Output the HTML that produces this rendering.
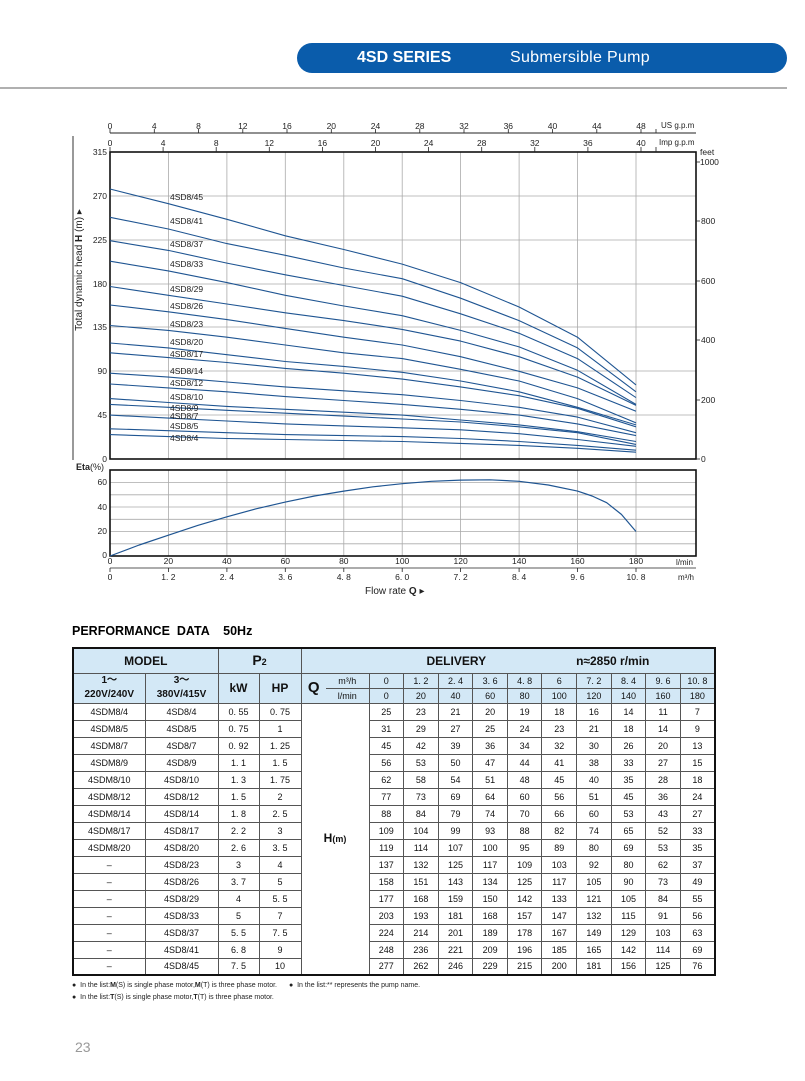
<!DOCTYPE html>
<html><head><meta charset="utf-8"><style>
body{margin:0;width:805px;height:1081px;background:#fff;position:relative;font-family:"Liberation Sans",sans-serif;overflow:hidden}
.pill{position:absolute;left:297px;top:43px;width:490px;height:30px;background:#0a5cab;border-radius:15px;color:#fff}
.pill b{position:absolute;left:60px;top:6px;font-size:16px}
.pill span{position:absolute;left:213px;top:6px;font-size:16px;letter-spacing:0.3px}
.hr{position:absolute;left:0;top:87px;width:787px;height:2px;background:#b0b0b0}
svg{position:absolute;left:0;top:0}
table{position:absolute;left:72px;top:647px;border-collapse:collapse;border:2px solid #111;table-layout:fixed;width:642px}
td{border:1px solid #555;text-align:center;padding:0;font-size:9px;line-height:10px;color:#111;overflow:hidden;white-space:nowrap}
tr.d{height:17px}
tr.d td{height:16px;box-sizing:border-box}
.h td{background:#d3e8f6;font-weight:bold}
.pd{position:absolute;left:72px;top:624px;font-size:12.5px;font-weight:bold}
.fn{position:absolute;left:72px;font-size:7px;color:#222}
.pg{position:absolute;left:75px;top:1039px;font-size:14px;color:#999}
</style></head><body>
<div class="pill"><b>4SD SERIES</b><span>Submersible Pump</span></div>
<div class="hr"></div>
<svg width="805" height="620" viewBox="0 0 805 620" font-family="Liberation Sans,sans-serif" font-size="8.5" fill="#222">
<line x1="73" y1="136" x2="73" y2="460" stroke="#333" stroke-width="1"/>
<g stroke="#aaa" stroke-width="0.8">
<line x1="168.4" y1="152" x2="168.4" y2="459"/><line x1="226.9" y1="152" x2="226.9" y2="459"/><line x1="285.3" y1="152" x2="285.3" y2="459"/><line x1="343.8" y1="152" x2="343.8" y2="459"/><line x1="402.2" y1="152" x2="402.2" y2="459"/><line x1="460.6" y1="152" x2="460.6" y2="459"/><line x1="519.1" y1="152" x2="519.1" y2="459"/><line x1="577.5" y1="152" x2="577.5" y2="459"/><line x1="636" y1="152" x2="636" y2="459"/>
<line x1="110" y1="196" x2="696" y2="196"/><line x1="110" y1="240" x2="696" y2="240"/><line x1="110" y1="284" x2="696" y2="284"/><line x1="110" y1="327" x2="696" y2="327"/><line x1="110" y1="371" x2="696" y2="371"/><line x1="110" y1="415" x2="696" y2="415"/>
</g>
<rect x="110" y="152" width="586" height="307" fill="none" stroke="#111" stroke-width="1.6"/>
<line x1="110" y1="133" x2="696" y2="133" stroke="#222" stroke-width="1"/>
<g stroke="#222" stroke-width="0.8">
<line x1="110" y1="129" x2="110" y2="133"/><line x1="154.3" y1="129" x2="154.3" y2="133"/><line x1="198.5" y1="129" x2="198.5" y2="133"/><line x1="242.8" y1="129" x2="242.8" y2="133"/><line x1="287" y1="129" x2="287" y2="133"/><line x1="331.3" y1="129" x2="331.3" y2="133"/><line x1="375.5" y1="129" x2="375.5" y2="133"/><line x1="419.8" y1="129" x2="419.8" y2="133"/><line x1="464" y1="129" x2="464" y2="133"/><line x1="508.3" y1="129" x2="508.3" y2="133"/><line x1="552.5" y1="129" x2="552.5" y2="133"/><line x1="596.8" y1="129" x2="596.8" y2="133"/><line x1="641" y1="129" x2="641" y2="133"/><line x1="656" y1="129" x2="656" y2="133"/>
<line x1="110" y1="147" x2="110" y2="152"/><line x1="163.1" y1="147" x2="163.1" y2="152"/><line x1="216.2" y1="147" x2="216.2" y2="152"/><line x1="269.3" y1="147" x2="269.3" y2="152"/><line x1="322.4" y1="147" x2="322.4" y2="152"/><line x1="375.5" y1="147" x2="375.5" y2="152"/><line x1="428.6" y1="147" x2="428.6" y2="152"/><line x1="481.7" y1="147" x2="481.7" y2="152"/><line x1="534.8" y1="147" x2="534.8" y2="152"/><line x1="587.9" y1="147" x2="587.9" y2="152"/><line x1="641" y1="147" x2="641" y2="152"/><line x1="656" y1="147" x2="656" y2="152"/>
</g>
<g text-anchor="middle">
<text x="110" y="129">0</text><text x="154.3" y="129">4</text><text x="198.5" y="129">8</text><text x="242.8" y="129">12</text><text x="287" y="129">16</text><text x="331.3" y="129">20</text><text x="375.5" y="129">24</text><text x="419.8" y="129">28</text><text x="464" y="129">32</text><text x="508.3" y="129">36</text><text x="552.5" y="129">40</text><text x="596.8" y="129">44</text><text x="641" y="129">48</text>
<text x="110" y="146">0</text><text x="163.1" y="146">4</text><text x="216.2" y="146">8</text><text x="269.3" y="146">12</text><text x="322.4" y="146">16</text><text x="375.5" y="146">20</text><text x="428.6" y="146">24</text><text x="481.7" y="146">28</text><text x="534.8" y="146">32</text><text x="587.9" y="146">36</text><text x="641" y="146">40</text>
</g>
<text x="661" y="128" font-size="8">US g.p.m</text><text x="659" y="145" font-size="8">Imp g.p.m</text>
<g text-anchor="end">
<text x="107" y="155">315</text><text x="107" y="199">270</text><text x="107" y="243">225</text><text x="107" y="287">180</text><text x="107" y="330">135</text><text x="107" y="374">90</text><text x="107" y="418">45</text><text x="107" y="462">0</text>
</g>
<text transform="translate(82,270) rotate(-90)" text-anchor="middle" font-size="10">Total dynamic head <tspan font-weight="bold">H</tspan> (m) ▸</text>
<g stroke="#222" stroke-width="0.8"><line x1="696" y1="162" x2="700" y2="162"/><line x1="696" y1="221" x2="700" y2="221"/><line x1="696" y1="281" x2="700" y2="281"/><line x1="696" y1="340" x2="700" y2="340"/><line x1="696" y1="400" x2="700" y2="400"/><line x1="696" y1="459" x2="700" y2="459"/></g>
<text x="700" y="155">feet</text><text x="700" y="165">1000</text><text x="701" y="224">800</text><text x="701" y="284">600</text><text x="701" y="343">400</text><text x="701" y="403">200</text><text x="701" y="462">0</text>
<g fill="none" stroke="#1f5592" stroke-width="1.1" stroke-linejoin="round">
<polyline points="110,434.6 168.4,436.6 226.9,438.5 285.3,439.5 343.8,440.5 402.2,441.5 460.6,443.4 519.1,445.4 577.5,448.3 636,452.2"/>
<polyline points="110,428.8 168.4,430.7 226.9,432.7 285.3,434.6 343.8,435.6 402.2,436.6 460.6,438.5 519.1,441.5 577.5,445.4 636,450.2"/>
<polyline points="110,415.1 168.4,418.1 226.9,421 285.3,423.9 343.8,425.9 402.2,427.8 460.6,429.8 519.1,433.7 577.5,439.5 636,446.3"/>
<polyline points="110,404.4 168.4,407.3 226.9,410.3 285.3,413.2 343.8,416.1 402.2,419 460.6,422 519.1,426.8 577.5,432.7 636,444.4"/>
<polyline points="110,398.6 168.4,402.5 226.9,406.4 285.3,409.3 343.8,412.2 402.2,415.1 460.6,420 519.1,424.9 577.5,431.7 636,441.5"/>
<polyline points="110,384 168.4,387.9 226.9,391.8 285.3,396.6 343.8,400.5 402.2,404.4 460.6,409.3 519.1,415.1 577.5,423.9 636,435.6"/>
<polyline points="110,373.2 168.4,377.1 226.9,382 285.3,386.9 343.8,390.8 402.2,394.7 460.6,400.5 519.1,407.3 577.5,417.1 636,432.7"/>
<polyline points="110,352.8 168.4,357.6 226.9,362.5 285.3,368.4 343.8,373.2 402.2,379.1 460.6,386.9 519.1,395.7 577.5,408.3 636,426.8"/>
<polyline points="110,343 168.4,347.9 226.9,354.7 285.3,361.5 343.8,366.4 402.2,372.3 460.6,381 519.1,391.8 577.5,407.3 636,424.9"/>
<polyline points="110,325.5 168.4,330.4 226.9,337.2 285.3,345 343.8,352.8 402.2,358.6 460.6,369.3 519.1,381 577.5,398.6 636,422.9"/>
<polyline points="110,305 168.4,311.8 226.9,319.6 285.3,328.4 343.8,337.2 402.2,345 460.6,356.7 519.1,371.3 577.5,387.9 636,411.2"/>
<polyline points="110,286.5 168.4,295.3 226.9,304 285.3,312.8 343.8,320.6 402.2,329.4 460.6,341.1 519.1,356.7 577.5,377.1 636,405.4"/>
<polyline points="110,261.2 168.4,270.9 226.9,282.6 285.3,295.3 343.8,306 402.2,315.7 460.6,330.4 519.1,346.9 577.5,370.3 636,404.4"/>
<polyline points="110,240.7 168.4,250.4 226.9,263.1 285.3,274.8 343.8,285.5 402.2,296.2 460.6,313.8 519.1,333.3 577.5,358.6 636,397.6"/>
<polyline points="110,217.3 168.4,229 226.9,243.6 285.3,255.3 343.8,268 402.2,278.7 460.6,298.2 519.1,320.6 577.5,347.9 636,391.8"/>
<polyline points="110,189 168.4,203.7 226.9,219.3 285.3,235.8 343.8,249.5 402.2,264.1 460.6,282.6 519.1,307 577.5,337.2 636,384.9"/>
</g>
<g font-size="8.5">
<text x="170" y="200">4SD8/45</text><text x="170" y="224">4SD8/41</text><text x="170" y="247">4SD8/37</text><text x="170" y="267">4SD8/33</text><text x="170" y="292">4SD8/29</text><text x="170" y="309">4SD8/26</text><text x="170" y="327">4SD8/23</text><text x="170" y="345">4SD8/20</text><text x="170" y="357">4SD8/17</text><text x="170" y="374">4SD8/14</text><text x="170" y="386">4SD8/12</text><text x="170" y="400">4SD8/10</text><text x="170" y="411">4SD8/9</text><text x="170" y="419">4SD8/7</text><text x="170" y="429">4SD8/5</text><text x="170" y="441">4SD8/4</text>
</g>
<g stroke="#aaa" stroke-width="0.8">
<line x1="168.4" y1="470" x2="168.4" y2="556"/><line x1="226.9" y1="470" x2="226.9" y2="556"/><line x1="285.3" y1="470" x2="285.3" y2="556"/><line x1="343.8" y1="470" x2="343.8" y2="556"/><line x1="402.2" y1="470" x2="402.2" y2="556"/><line x1="460.6" y1="470" x2="460.6" y2="556"/><line x1="519.1" y1="470" x2="519.1" y2="556"/><line x1="577.5" y1="470" x2="577.5" y2="556"/><line x1="636" y1="470" x2="636" y2="556"/>
<line x1="110" y1="482.5" x2="696" y2="482.5"/><line x1="110" y1="494.8" x2="696" y2="494.8"/><line x1="110" y1="507" x2="696" y2="507"/><line x1="110" y1="519.3" x2="696" y2="519.3"/><line x1="110" y1="531.5" x2="696" y2="531.5"/><line x1="110" y1="543.8" x2="696" y2="543.8"/>
</g>
<rect x="110" y="470" width="586" height="86" fill="none" stroke="#111" stroke-width="1.6"/>
<polyline fill="none" stroke="#1f5592" stroke-width="1.2" stroke-linejoin="round" points="110,556 139.2,545 168.4,535.2 197.7,525.4 226.9,516.8 256.1,508.8 285.3,502.1 314.5,496 343.8,491.1 373,486.8 402.2,483.7 431.4,481.3 460.6,480.1 489.9,479.8 519.1,481.3 548.3,485 577.5,491.1 592.1,496 606.7,502.7 621.4,514.4 636,531.5"/>
<text x="76" y="470" font-size="9"><tspan font-weight="bold">Eta</tspan>(%)</text>
<g text-anchor="end"><text x="107" y="485">60</text><text x="107" y="510">40</text><text x="107" y="534">20</text><text x="107" y="558">0</text></g>
<g text-anchor="middle">
<text x="110" y="564">0</text><text x="168.4" y="564">20</text><text x="226.9" y="564">40</text><text x="285.3" y="564">60</text><text x="343.8" y="564">80</text><text x="402.2" y="564">100</text><text x="460.6" y="564">120</text><text x="519.1" y="564">140</text><text x="577.5" y="564">160</text><text x="636" y="564">180</text>
<text x="110" y="580">0</text><text x="168.4" y="580">1. 2</text><text x="226.9" y="580">2. 4</text><text x="285.3" y="580">3. 6</text><text x="343.8" y="580">4. 8</text><text x="402.2" y="580">6. 0</text><text x="460.6" y="580">7. 2</text><text x="519.1" y="580">8. 4</text><text x="577.5" y="580">9. 6</text><text x="636" y="580">10. 8</text>
</g>
<line x1="110" y1="568" x2="696" y2="568" stroke="#222" stroke-width="0.8"/>
<g stroke="#222" stroke-width="0.8"><line x1="110" y1="568" x2="110" y2="572"/><line x1="168.4" y1="568" x2="168.4" y2="572"/><line x1="226.9" y1="568" x2="226.9" y2="572"/><line x1="285.3" y1="568" x2="285.3" y2="572"/><line x1="343.8" y1="568" x2="343.8" y2="572"/><line x1="402.2" y1="568" x2="402.2" y2="572"/><line x1="460.6" y1="568" x2="460.6" y2="572"/><line x1="519.1" y1="568" x2="519.1" y2="572"/><line x1="577.5" y1="568" x2="577.5" y2="572"/><line x1="636" y1="568" x2="636" y2="572"/></g>
<text x="676" y="565" font-size="8">l/min</text><text x="678" y="580" font-size="8">m³/h</text>
<text x="365" y="594" font-size="10">Flow  rate  <tspan font-weight="bold">Q</tspan>  ▸</text>
</svg>
<div class="pd">PERFORMANCE&nbsp; DATA &nbsp;&nbsp; 50Hz</div>
<table>
<colgroup><col style="width:72px"><col style="width:73px"><col style="width:41px"><col style="width:42px"><col style="width:25px"><col style="width:43px"><col span="10" style="width:34.6px"></colgroup>
<tr class="h" style="height:25px"><td colspan="2" style="font-size:12px">MODEL</td><td colspan="2" style="font-size:14px">P<span style="font-size:9px">2</span></td><td colspan="12" style="font-size:12px;text-align:left;padding-left:125px">DELIVERY<span style="padding-left:90px">n≈2850 r/min</span></td></tr>
<tr class="h" style="height:15px"><td rowspan="2" style="font-size:10px;line-height:14px">1～<br>220V/240V</td><td rowspan="2" style="font-size:10px;line-height:14px">3～<br>380V/415V</td><td rowspan="2" style="font-size:12px">kW</td><td rowspan="2" style="font-size:12px">HP</td><td rowspan="2" style="font-size:15px;border-right:none">Q</td><td style="font-weight:normal;font-size:9px;border-left:none">m³/h</td><td style="font-weight:normal">0</td><td style="font-weight:normal">1. 2</td><td style="font-weight:normal">2. 4</td><td style="font-weight:normal">3. 6</td><td style="font-weight:normal">4. 8</td><td style="font-weight:normal">6</td><td style="font-weight:normal">7. 2</td><td style="font-weight:normal">8. 4</td><td style="font-weight:normal">9. 6</td><td style="font-weight:normal">10. 8</td></tr>
<tr class="h" style="height:15px"><td style="font-weight:normal;font-size:9px;border-left:none">l/min</td><td style="font-weight:normal">0</td><td style="font-weight:normal">20</td><td style="font-weight:normal">40</td><td style="font-weight:normal">60</td><td style="font-weight:normal">80</td><td style="font-weight:normal">100</td><td style="font-weight:normal">120</td><td style="font-weight:normal">140</td><td style="font-weight:normal">160</td><td style="font-weight:normal">180</td></tr>
<tr class="d"><td>4SDM8/4</td><td>4SD8/4</td><td>0. 55</td><td>0. 75</td><td colspan="2" rowspan="16" style="font-size:12px;font-weight:bold">H<span style="font-size:9px">(m)</span></td><td>25</td><td>23</td><td>21</td><td>20</td><td>19</td><td>18</td><td>16</td><td>14</td><td>11</td><td>7</td></tr>
<tr class="d"><td>4SDM8/5</td><td>4SD8/5</td><td>0. 75</td><td>1</td><td>31</td><td>29</td><td>27</td><td>25</td><td>24</td><td>23</td><td>21</td><td>18</td><td>14</td><td>9</td></tr>
<tr class="d"><td>4SDM8/7</td><td>4SD8/7</td><td>0. 92</td><td>1. 25</td><td>45</td><td>42</td><td>39</td><td>36</td><td>34</td><td>32</td><td>30</td><td>26</td><td>20</td><td>13</td></tr>
<tr class="d"><td>4SDM8/9</td><td>4SD8/9</td><td>1. 1</td><td>1. 5</td><td>56</td><td>53</td><td>50</td><td>47</td><td>44</td><td>41</td><td>38</td><td>33</td><td>27</td><td>15</td></tr>
<tr class="d"><td>4SDM8/10</td><td>4SD8/10</td><td>1. 3</td><td>1. 75</td><td>62</td><td>58</td><td>54</td><td>51</td><td>48</td><td>45</td><td>40</td><td>35</td><td>28</td><td>18</td></tr>
<tr class="d"><td>4SDM8/12</td><td>4SD8/12</td><td>1. 5</td><td>2</td><td>77</td><td>73</td><td>69</td><td>64</td><td>60</td><td>56</td><td>51</td><td>45</td><td>36</td><td>24</td></tr>
<tr class="d"><td>4SDM8/14</td><td>4SD8/14</td><td>1. 8</td><td>2. 5</td><td>88</td><td>84</td><td>79</td><td>74</td><td>70</td><td>66</td><td>60</td><td>53</td><td>43</td><td>27</td></tr>
<tr class="d"><td>4SDM8/17</td><td>4SD8/17</td><td>2. 2</td><td>3</td><td>109</td><td>104</td><td>99</td><td>93</td><td>88</td><td>82</td><td>74</td><td>65</td><td>52</td><td>33</td></tr>
<tr class="d"><td>4SDM8/20</td><td>4SD8/20</td><td>2. 6</td><td>3. 5</td><td>119</td><td>114</td><td>107</td><td>100</td><td>95</td><td>89</td><td>80</td><td>69</td><td>53</td><td>35</td></tr>
<tr class="d"><td>–</td><td>4SD8/23</td><td>3</td><td>4</td><td>137</td><td>132</td><td>125</td><td>117</td><td>109</td><td>103</td><td>92</td><td>80</td><td>62</td><td>37</td></tr>
<tr class="d"><td>–</td><td>4SD8/26</td><td>3. 7</td><td>5</td><td>158</td><td>151</td><td>143</td><td>134</td><td>125</td><td>117</td><td>105</td><td>90</td><td>73</td><td>49</td></tr>
<tr class="d"><td>–</td><td>4SD8/29</td><td>4</td><td>5. 5</td><td>177</td><td>168</td><td>159</td><td>150</td><td>142</td><td>133</td><td>121</td><td>105</td><td>84</td><td>55</td></tr>
<tr class="d"><td>–</td><td>4SD8/33</td><td>5</td><td>7</td><td>203</td><td>193</td><td>181</td><td>168</td><td>157</td><td>147</td><td>132</td><td>115</td><td>91</td><td>56</td></tr>
<tr class="d"><td>–</td><td>4SD8/37</td><td>5. 5</td><td>7. 5</td><td>224</td><td>214</td><td>201</td><td>189</td><td>178</td><td>167</td><td>149</td><td>129</td><td>103</td><td>63</td></tr>
<tr class="d"><td>–</td><td>4SD8/41</td><td>6. 8</td><td>9</td><td>248</td><td>236</td><td>221</td><td>209</td><td>196</td><td>185</td><td>165</td><td>142</td><td>114</td><td>69</td></tr>
<tr class="d"><td>–</td><td>4SD8/45</td><td>7. 5</td><td>10</td><td>277</td><td>262</td><td>246</td><td>229</td><td>215</td><td>200</td><td>181</td><td>156</td><td>125</td><td>76</td></tr>
</table>
<div class="fn" style="top:982px">●&nbsp; In the list:<b>M</b>(S) is single phase motor,<b>M</b>(T) is three phase motor. <span style="padding-left:10px">●&nbsp; In the list:** represents the pump name.</span></div>
<div class="fn" style="top:994px">●&nbsp; In the list:<b>T</b>(S) is single phase motor,<b>T</b>(T) is three phase motor.</div>
<div class="pg">23</div>
</body></html>
